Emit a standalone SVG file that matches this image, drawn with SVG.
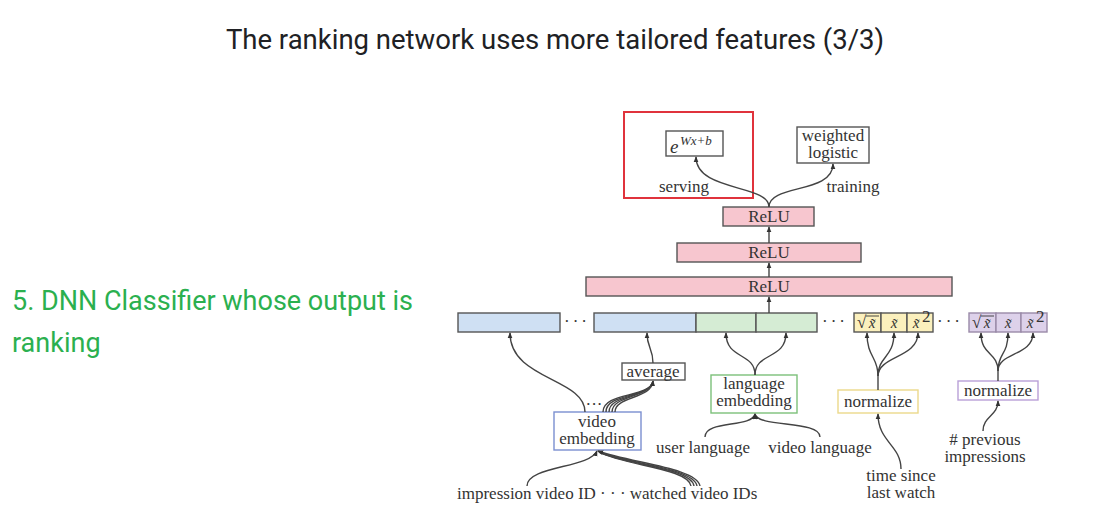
<svg xmlns="http://www.w3.org/2000/svg" width="1101" height="513" viewBox="0 0 1101 513">
  <defs>
    <marker id="ah" viewBox="0 0 8 8" refX="7" refY="4" markerWidth="6" markerHeight="6" orient="auto" markerUnits="userSpaceOnUse">
      <path d="M0,0.8 L8,4 L0,7.2 z" fill="#333"/>
    </marker>
    <style>
      .title { font-family: Roboto, "Open Sans", sans-serif; font-size: 27.5px; fill: #202124; }
      .side { font-family: Roboto, "Open Sans", sans-serif; font-size: 27px; fill: #2bb04f; }
      .lbl { font-family: "Liberation Serif", "DejaVu Serif", serif; font-size: 17px; fill: #333; }
      .math { font-family: "Liberation Serif", "DejaVu Serif", serif; font-style: italic; fill: #333; }
      .box { fill: #fff; stroke: #555; stroke-width: 1.4; }
      .relu { fill: #f7c6cf; stroke: #555; stroke-width: 1.4; }
      .cb { fill: #cfe0f3; stroke: #555; stroke-width: 1.4; }
      .cg { fill: #d5ecd4; stroke: #555; stroke-width: 1.4; }
      .cy { fill: #fbf0bd; stroke: #555; stroke-width: 1.4; }
      .cp { fill: #ddd1ea; stroke: #9a8aa8; stroke-width: 1.4; }
      .edge { fill: none; stroke: #444; stroke-width: 1.4; }
      .arrow { fill: none; stroke: #444; stroke-width: 1.4; marker-end: url(#ah); }
    </style>
  </defs>

  <text class="title" x="555" y="49" text-anchor="middle">The ranking network uses more tailored features (3/3)</text>

  <g id="caption">
    <text class="side" x="12" y="310">5. DNN Classifier whose output is</text>
    <text class="side" x="12" y="352">ranking</text>
  </g>

  <!-- output heads -->
  <g id="serving-highlight">
    <rect x="624" y="112" width="129" height="86" fill="none" stroke="#e0333c" stroke-width="2"/>
  </g>
  <g id="exp-output">
    <rect class="box" x="666" y="131" width="57" height="25"/>
    <text class="math" x="670" y="153" font-size="19">e</text>
    <text class="math" x="680" y="145" font-size="13">Wx+b</text>
  </g>
  <g id="weighted-logistic">
    <rect class="box" x="797" y="127" width="72" height="36"/>
    <text class="lbl" x="833" y="141" text-anchor="middle">weighted</text>
    <text class="lbl" x="833" y="158" text-anchor="middle">logistic</text>
  </g>
  <text class="lbl" x="684" y="192" text-anchor="middle">serving</text>
  <text class="lbl" x="853" y="192" text-anchor="middle">training</text>

  <!-- hidden layers -->
  <g id="relu-3">
    <rect class="relu" x="723" y="207" width="91" height="19"/>
    <text class="lbl" x="769" y="222" text-anchor="middle">ReLU</text>
  </g>
  <g id="relu-2">
    <rect class="relu" x="677" y="243" width="184" height="19"/>
    <text class="lbl" x="769" y="258" text-anchor="middle">ReLU</text>
  </g>
  <g id="relu-1">
    <rect class="relu" x="586" y="277" width="366" height="19"/>
    <text class="lbl" x="769" y="292" text-anchor="middle">ReLU</text>
  </g>

  <!-- concatenated input layer -->
  <g id="impression-emb">
    <rect class="cb" x="458" y="313" width="102" height="19"/>
  </g>
  <text class="lbl" x="577" y="327" text-anchor="middle" letter-spacing="3">···</text>
  <g id="watched-emb">
    <rect class="cb" x="594" y="313" width="102" height="19"/>
  </g>
  <g id="language-emb-cells">
    <rect class="cg" x="696" y="313" width="60" height="19"/>
    <rect class="cg" x="756" y="313" width="61" height="19"/>
  </g>
  <text class="lbl" x="835" y="327" text-anchor="middle" letter-spacing="3">···</text>
  <g id="time-cells">
    <rect class="cy" x="854" y="313" width="27" height="19"/>
    <rect class="cy" x="881" y="313" width="26" height="19"/>
    <rect class="cy" x="907" y="313" width="26" height="19"/>
    <text class="lbl" x="857" y="328" font-size="15">√</text>
    <line x1="866" y1="316" x2="879" y2="316" stroke="#333" stroke-width="0.9"/>
    <text class="math" x="872" y="328" font-size="15" text-anchor="middle">x̃</text>
    <text class="math" x="894" y="328" font-size="15" text-anchor="middle">x̃</text>
    <text class="math" x="916" y="328" font-size="15" text-anchor="middle">x̃</text>
    <text class="lbl" x="922" y="322" font-size="9">2</text>
  </g>
  <text class="lbl" x="950" y="327" text-anchor="middle" letter-spacing="3">···</text>
  <g id="impression-count-cells">
    <rect class="cp" x="969" y="313" width="27" height="19"/>
    <rect class="cp" x="996" y="313" width="25" height="19"/>
    <rect class="cp" x="1021" y="313" width="26" height="19"/>
    <text class="lbl" x="972" y="328" font-size="15">√</text>
    <line x1="981" y1="316" x2="994" y2="316" stroke="#333" stroke-width="0.9"/>
    <text class="math" x="987" y="328" font-size="15" text-anchor="middle">x̃</text>
    <text class="math" x="1008" y="328" font-size="15" text-anchor="middle">x̃</text>
    <text class="math" x="1030" y="328" font-size="15" text-anchor="middle">x̃</text>
    <text class="lbl" x="1036" y="322" font-size="9">2</text>
  </g>

  <!-- feature transforms -->
  <g id="average">
    <rect class="box" x="622" y="363" width="63" height="17"/>
    <text class="lbl" x="653" y="377" text-anchor="middle">average</text>
  </g>
  <g id="video-embedding">
    <rect x="554" y="412" width="87" height="38" fill="#fff" stroke="#7b8fd0" stroke-width="1.4"/>
    <text class="lbl" x="597" y="427" text-anchor="middle">video</text>
    <text class="lbl" x="597" y="444" text-anchor="middle">embedding</text>
  </g>
  <g id="language-embedding">
    <rect x="711" y="375" width="86" height="38" fill="#fff" stroke="#7cc07a" stroke-width="1.4"/>
    <text class="lbl" x="754" y="389" text-anchor="middle">language</text>
    <text class="lbl" x="754" y="406" text-anchor="middle">embedding</text>
  </g>
  <g id="normalize-time">
    <rect x="838" y="390" width="80" height="23" fill="#fff" stroke="#ecd98a" stroke-width="1.4"/>
    <text class="lbl" x="878" y="407" text-anchor="middle">normalize</text>
  </g>
  <g id="normalize-impressions">
    <rect x="958" y="381" width="80" height="19" fill="#fff" stroke="#b9a0d8" stroke-width="1.4"/>
    <text class="lbl" x="998" y="396" text-anchor="middle">normalize</text>
  </g>

  <!-- raw inputs -->
  <text class="lbl" x="457" y="499">impression video ID · · · watched video IDs</text>
  <text class="lbl" x="703" y="453" text-anchor="middle">user language</text>
  <text class="lbl" x="820" y="453" text-anchor="middle">video language</text>
  <text class="lbl" x="901" y="481" text-anchor="middle">time since</text>
  <text class="lbl" x="901" y="498" text-anchor="middle">last watch</text>
  <text class="lbl" x="985" y="445" text-anchor="middle"># previous</text>
  <text class="lbl" x="985" y="462" text-anchor="middle">impressions</text>

  <g id="connectors">
    <!-- top of the tower -->
    <path class="arrow" d="M769,207 C769,184 696,192 696,157"/>
    <path class="arrow" d="M769,207 C769,184 833,194 833,164"/>
    <path class="arrow" d="M769,243 L769,227"/>
    <path class="arrow" d="M769,277 L769,263"/>
    <path class="arrow" d="M769,313 L769,297"/>

    <!-- into the concatenated layer -->
    <path class="arrow" d="M585,412 C585,378 510,380 510,333"/>
    <text class="lbl" x="594" y="410" font-size="10" text-anchor="middle">···</text>
    <path class="edge" d="M603,412 C603,392 650,398 653,381"/>
    <path class="edge" d="M606,412 C606,393 650,398 653,381"/>
    <path class="edge" d="M609,412 C609,394 650,398 653,381"/>
    <path class="edge" d="M612,412 C612,395 650,398 653,381"/>
    <path class="arrow" d="M615,412 C615,396 652,399 653,381"/>
    <path class="arrow" d="M653,363 C653,348 647,348 647,333"/>
    <path class="arrow" d="M755,375 C755,352 726,360 726,333"/>
    <path class="arrow" d="M755,375 C755,352 786,360 786,333"/>

    <path class="edge" d="M878,390 L878,376"/>
    <path class="arrow" d="M878,376 C878,356 867,358 867,333"/>
    <path class="arrow" d="M878,376 C878,356 894,358 894,333"/>
    <path class="arrow" d="M878,376 C878,356 918,358 918,333"/>
    <path class="edge" d="M998,381 L998,371"/>
    <path class="arrow" d="M998,371 C998,352 981,356 981,333"/>
    <path class="arrow" d="M998,371 C998,352 1008,356 1008,333"/>
    <path class="arrow" d="M998,371 C998,352 1033,356 1033,333"/>

    <!-- from the raw inputs -->
    <path class="arrow" d="M527,486 C527,466 590,468 597,451"/>
    <path class="edge" d="M691,486 C688,468 625,466 599,452"/>
    <path class="edge" d="M694,486 C691,468 627,465 599,452"/>
    <path class="edge" d="M697,486 C694,468 629,464 599,452"/>
    <path class="arrow" d="M700,486 C697,468 631,463 598,451"/>
    <path class="arrow" d="M705,437 C705,420 752,428 755,414"/>
    <path class="arrow" d="M820,437 C820,420 758,428 755,414"/>
    <path class="arrow" d="M901,469 C901,445 878,442 878,414"/>
    <path class="arrow" d="M983,431 C983,416 998,416 998,401"/>
  </g>
</svg>
